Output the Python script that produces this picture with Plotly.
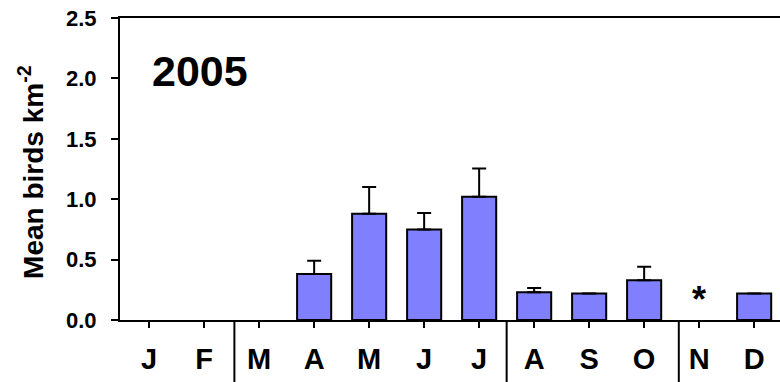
import plotly.graph_objects as go

# Monthly mean bird density, 2005
months = ["J", "F", "M", "A", "M", "J", "J", "A", "S", "O", "N", "D"]
means = [None, None, None, 0.38, 0.88, 0.75, 1.02, 0.23, 0.22, 0.33, None, 0.22]
err_up = [0, 0, 0, 0.11, 0.22, 0.135, 0.235, 0.035, 0, 0.11, 0, 0]
no_survey = [10]            # month index marked with an asterisk
season_breaks = [1.55, 6.5, 9.63]  # vertical dividers between seasons

x_idx = list(range(len(months)))
x_range = [-0.53, 11.47]

FONT = "Liberation Sans, Arial, sans-serif"

fig = go.Figure()
fig.add_trace(go.Bar(
    x=x_idx,
    y=means,
    width=0.62,
    marker=dict(color="#8080ff", line=dict(color="black", width=2)),
    error_y=dict(type="data", symmetric=False, array=err_up,
                 arrayminus=[0] * len(err_up),
                 color="black", thickness=2, width=7),
    showlegend=False,
))

annotations = [
    dict(text="2005", xref="paper", yref="paper", x=0.121, y=0.825,
         xanchor="center", yanchor="middle", showarrow=False,
         font=dict(family=FONT, size=43, color="black", weight="bold")),
    dict(text="Mean birds km<sup>-2</sup>", xref="paper", yref="paper",
         x=-0.135, y=0.49, xanchor="center", yanchor="middle",
         textangle=-90, showarrow=False,
         font=dict(family=FONT, size=28, color="black", weight="bold")),
]
for i in no_survey:
    annotations.append(dict(text="*", x=i, y=0.17, xref="x", yref="y",
                            xanchor="center", yanchor="middle", showarrow=False,
                            font=dict(family=FONT, size=36, color="black", weight="bold")))

span = x_range[1] - x_range[0]
shapes = [
    dict(type="line", xref="paper", yref="paper",
         x0=(b - x_range[0]) / span, x1=(b - x_range[0]) / span,
         y0=0, y1=-0.25, line=dict(color="black", width=2))
    for b in season_breaks
]

fig.update_layout(
    width=780, height=382,
    margin=dict(l=120, r=0, t=18, b=62),
    paper_bgcolor="white", plot_bgcolor="white",
    font=dict(family=FONT, color="black"),
    annotations=annotations,
    shapes=shapes,
    xaxis=dict(
        range=x_range, tickmode="array", tickvals=x_idx, ticktext=months,
        showline=True, linecolor="black", linewidth=2, mirror=True,
        ticks="outside", ticklen=6, tickwidth=2, tickcolor="black",
        showgrid=False, zeroline=False, ticklabelstandoff=6,
        tickfont=dict(family=FONT, size=29, color="black", weight="bold"),
    ),
    yaxis=dict(
        range=[0, 2.5], tickmode="array", tickvals=[0, 0.5, 1.0, 1.5, 2.0, 2.5],
        tickformat=".1f",
        showline=True, linecolor="black", linewidth=2,
        ticks="outside", ticklen=7, tickwidth=2, tickcolor="black",
        showgrid=False, zeroline=False, ticklabelstandoff=10,
        tickfont=dict(family=FONT, size=22, color="black", weight="bold"),
    ),
)

fig.write_html("out.html")
